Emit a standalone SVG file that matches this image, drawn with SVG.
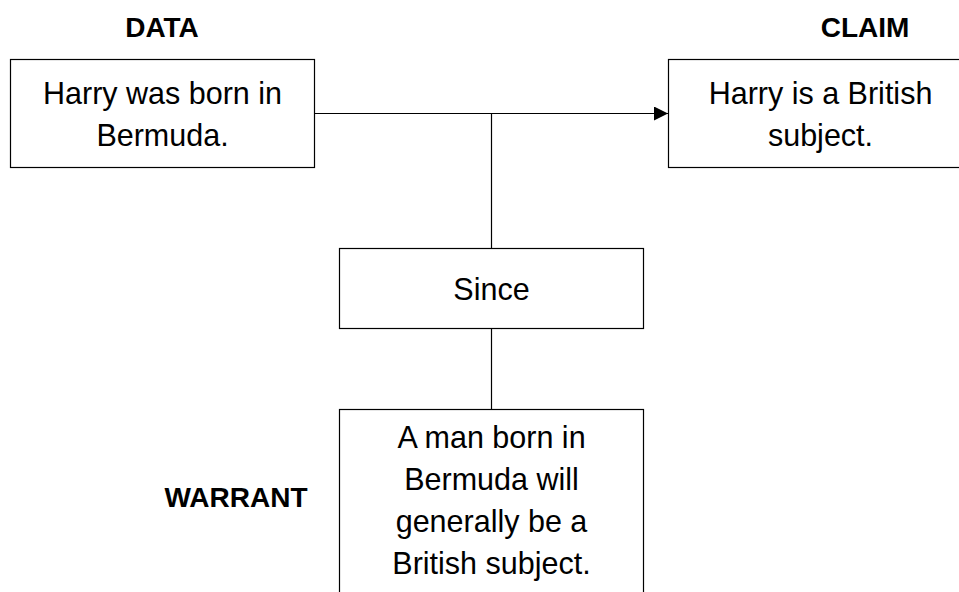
<svg xmlns="http://www.w3.org/2000/svg" width="959" height="592" viewBox="0 0 959 592">
<style>
.box{fill:#fff;stroke:#000;stroke-width:1.2}
.t{font-family:"Liberation Sans",Arial,sans-serif;font-size:30.5px;fill:#000;text-anchor:middle}
.h{font-family:"Liberation Sans",Arial,sans-serif;font-size:28px;font-weight:bold;fill:#000;text-anchor:middle}
.c{fill:none;stroke:#000;stroke-width:1.2}
</style>
<defs>
<marker id="arr" markerWidth="14" markerHeight="14" viewBox="0 0 14 14" refX="14" refY="7" orient="auto" markerUnits="userSpaceOnUse">
<path d="M0,0 L14,7 L0,14 Z" fill="#000"/>
</marker>
</defs>
<rect width="959" height="592" fill="#fff"/>
<g id="connectors">
<path class="c" d="M314,113.5 H668" marker-end="url(#arr)"/>
<path class="c" d="M491.5,113.5 V248"/>
<path class="c" d="M491.5,328 V409"/>
</g>
<g id="label-data"><text class="h" x="162" y="37">DATA</text></g>
<g id="label-claim"><text class="h" x="865" y="37">CLAIM</text></g>
<g id="label-warrant"><text class="h" x="236" y="507">WARRANT</text></g>
<g id="data">
<rect class="box" x="10.5" y="59.5" width="304" height="108"/>
<text class="t" x="162.5" y="104">Harry was born in</text>
<text class="t" x="162.5" y="146">Bermuda.</text>
</g>
<g id="claim">
<rect class="box" x="668.5" y="59.5" width="304" height="108"/>
<text class="t" x="820.5" y="104">Harry is a British</text>
<text class="t" x="820.5" y="146">subject.</text>
</g>
<g id="since">
<rect class="box" x="339.5" y="248.5" width="304" height="80"/>
<text class="t" x="491.5" y="300">Since</text>
</g>
<g id="warrant">
<rect class="box" x="339.5" y="409.5" width="304" height="200"/>
<text class="t" x="491.5" y="448">A man born in</text>
<text class="t" x="491.5" y="490">Bermuda will</text>
<text class="t" x="491.5" y="532">generally be a</text>
<text class="t" x="491.5" y="574">British subject.</text>
</g>
</svg>
